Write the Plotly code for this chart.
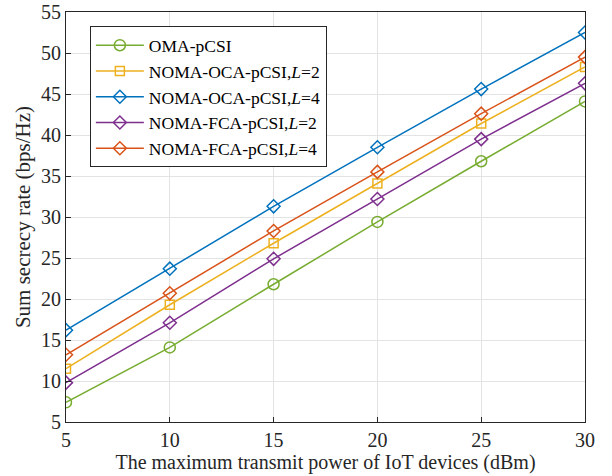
import plotly.graph_objects as go

x = [5, 10, 15, 20, 25, 30]
oma = [7.4, 14.1, 21.8, 29.4, 36.8, 44.1]
oca_l2 = [11.5, 19.3, 26.8, 34.1, 41.4, 48.3]
oca_l4 = [16.2, 23.7, 31.3, 38.5, 45.6, 52.5]
fca_l2 = [9.8, 17.1, 24.9, 32.2, 39.5, 46.3]
fca_l4 = [13.2, 20.7, 28.3, 35.5, 42.6, 49.5]

names = ["OMA-pCSI", "NOMA-OCA-pCSI,<i>L</i>=2", "NOMA-OCA-pCSI,<i>L</i>=4",
         "NOMA-FCA-pCSI,<i>L</i>=2", "NOMA-FCA-pCSI,<i>L</i>=4"]
series = [oma, oca_l2, oca_l4, fca_l2, fca_l4]
colors = ["#77AC30", "#EDB120", "#0072BD", "#7E2F8E", "#D95319"]
symbols = ["circle-open", "square-open", "diamond-open", "diamond-open", "diamond-open"]
sizes = [11, 9, 10, 10, 10]

fig = go.Figure()
for n, s, c, sym, sz in zip(names, series, colors, symbols, sizes):
    fig.add_trace(go.Scatter(x=x, y=s, name=n, mode="lines+markers",
                             line=dict(color=c, width=1.5),
                             marker=dict(symbol=sym, size=sz, color=c, line=dict(width=1.5, color=c))))

font = "Liberation Serif"
axis_common = dict(showgrid=True, gridcolor="#E3E3E3", gridwidth=1, showline=True, linecolor="#262626",
                   linewidth=1, mirror=True, ticks="inside", ticklen=5, tickcolor="#262626",
                   tickfont=dict(family=font, size=20, color="#262626"), zeroline=False,
                   automargin=False, ticklabeloverflow="allow")
fig.update_layout(
    width=612, height=476,
    margin=dict(l=66, r=27, t=12, b=54),
    plot_bgcolor="white", paper_bgcolor="white",
    font=dict(family=font, size=20, color="#262626"),
    xaxis=dict(range=[5, 30], tickvals=[5, 10, 15, 20, 25, 30],
               title=dict(text="The maximum transmit power of IoT devices (dBm)", font=dict(size=20), standoff=0),
               **axis_common),
    yaxis=dict(range=[5, 55], tickvals=list(range(5, 56, 5)),
               title=dict(text="Sum secrecy rate (bps/Hz)", font=dict(size=21), standoff=4),
               **axis_common),
    legend=dict(x=0.046, y=0.965, xanchor="left", yanchor="top", bgcolor="white",
                bordercolor="#262626", borderwidth=1, font=dict(family=font, size=17.5, color="black"),
                tracegroupgap=0, itemwidth=48),
    showlegend=True,
)
fig.write_html("out.html")
